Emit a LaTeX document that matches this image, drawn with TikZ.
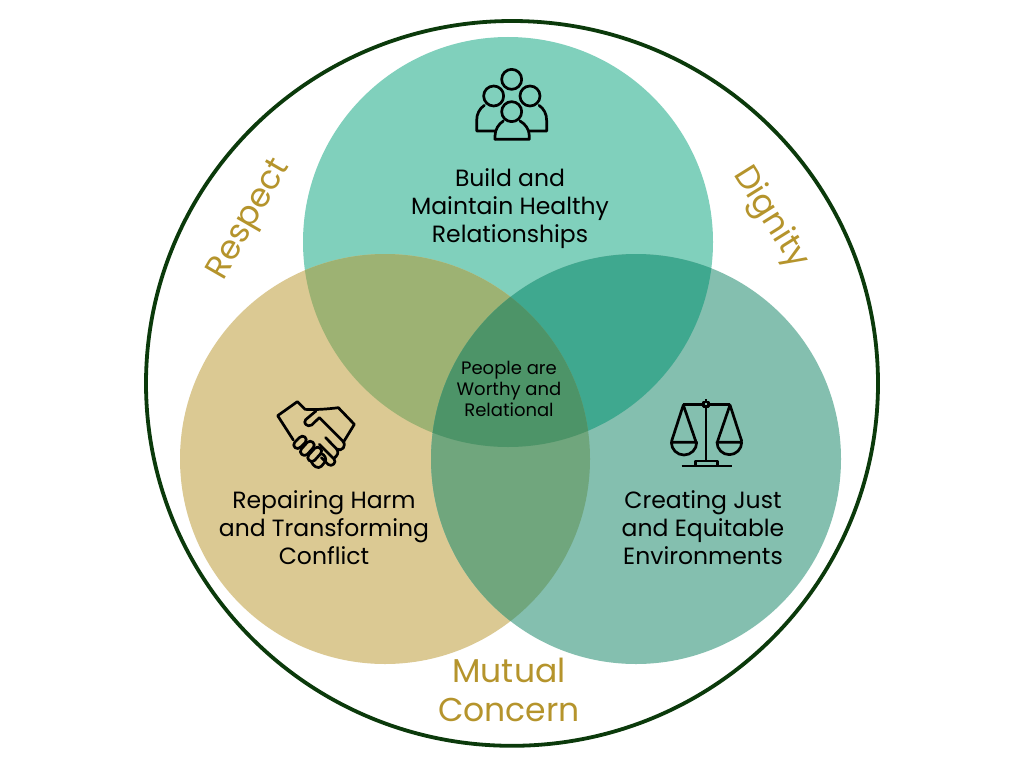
\documentclass[tikz,border=0pt]{standalone}
\usepackage{fontspec}
\setmainfont{Poppins}
\definecolor{ctop}{HTML}{80D0BC}
\definecolor{cleft}{HTML}{DBC993}
\definecolor{cright}{HTML}{84BFAF}
\definecolor{ctl}{HTML}{9DB273}
\definecolor{ctr}{HTML}{3FA88F}
\definecolor{clr}{HTML}{70A67D}
\definecolor{ccen}{HTML}{4D9468}
\definecolor{ring}{HTML}{0B3A0B}
\definecolor{gold}{HTML}{B5942C}
\tikzset{
  label/.style={font=\fontsize{23.5}{28}\selectfont,align=center,text=black,inner sep=0pt},
  small/.style={font=\fontsize{18}{21}\selectfont,align=center,text=black,inner sep=0pt},
  value/.style={font=\fontsize{33}{39}\selectfont,align=center,text=gold,inner sep=0pt},
  icon/.style={draw=black,line width=2.7pt,line join=round,line cap=round,fill=none}
}
\newcommand{\circT}{(508,242) circle[radius=205]}
\newcommand{\circL}{(385,459) circle[radius=205]}
\newcommand{\circR}{(636,459) circle[radius=205]}
\begin{document}
\begin{tikzpicture}[x=1pt,y=-1pt]
\useasboundingbox (0,0) rectangle (1024,768);
\fill[white] (0,0) rectangle (1024,768);
\fill[ctop] \circT;
\fill[cleft] \circL;
\fill[cright] \circR;
\begin{scope}\clip \circT; \fill[ctl] \circL; \fill[ctr] \circR; \end{scope}
\begin{scope}\clip \circL; \fill[clr] \circR; \end{scope}
\begin{scope}\clip \circT; \clip \circL; \fill[ccen] \circR; \end{scope}
\draw[ring,line width=3.8pt] (512,383.4) ellipse[x radius=366,y radius=362.4];

\node[label] (build) at (510,208.5) {Build and\\Maintain Healthy\\Relationships};
\node[label] (repair) at (324,528) {Repairing Harm\\and Transforming\\Conflict};
\node[label] (just) at (703,528) {Creating Just\\and Equitable\\Environments};
\node[small] (core) at (509,388.5) {People are\\Worthy and\\Relational};
\node[value,rotate=60] (respect) at (250,220) {Respect};
\node[value,rotate=-58] (dignity) at (770,218) {Dignity};
\node[value] (mutual) at (509,690) {Mutual\\Concern};

% people icon
\begin{scope}[shift={(450,50)},x=.3333pt,y=-.3333pt]
\draw[icon] (185,88) circle[radius=30];
\draw[icon] (131,138) circle[radius=30];
\draw[icon] (240,138) circle[radius=30];
\draw[icon] (185,185) circle[radius=30];
\draw[icon] (103,166) .. controls (88,176) and (80,192) .. (80,212) -- (80,243) -- (135,243);
\draw[icon] (267,166) .. controls (282,176) and (290,192) .. (290,212) -- (290,243) -- (238,243);
\draw[icon] (135,268) -- (238,268) -- (238,258) .. controls (238,238) and (226,222) .. (210,213);
\draw[icon] (160,213) .. controls (146,222) and (135,238) .. (135,258) -- (135,268);
\end{scope}

% handshake icon
\begin{scope}[shift={(260,385)},x=.3333pt,y=-.3333pt]
\draw[icon] (100,165) -- (53,92) -- (112,50) -- (135,73) .. controls (165,75) and (205,72) .. (235,68) -- (283,118) -- (250,172);
\draw[icon] (168,78) -- (137,104) .. controls (128,114) and (142,128) .. (155,120) -- (178,98) -- (248,168) .. controls (262,182) and (245,202) .. (230,192) -- (197,158);
\draw[icon] (178,178) -- (222,222) .. controls (232,232) and (215,248) .. (204,238) -- (184,218);
\draw[icon] (230,192) .. controls (238,202) and (232,212) .. (222,220);
\draw[icon] (104,172) -- (118,158) .. controls (128,146) and (146,160) .. (136,172) -- (122,186) .. controls (112,198) and (94,184) .. (104,172);
\draw[icon] (124,192) -- (142,172) .. controls (152,162) and (170,176) .. (160,188) -- (142,208) .. controls (132,218) and (114,204) .. (124,192);
\draw[icon] (146,210) -- (164,190) .. controls (174,180) and (192,194) .. (182,206) -- (164,226) .. controls (154,236) and (136,222) .. (146,210);
\draw[icon] (184,206) .. controls (194,208) and (202,224) .. (194,232) -- (184,244) .. controls (174,254) and (158,242) .. (154,230);
\end{scope}

% scales icon
\begin{scope}[shift={(655,385)},x=.3333pt,y=-.3333pt]
\draw[icon,line cap=butt] (85,58) -- (145,58) (161,58) -- (225,58);
\draw[icon,line cap=butt] (153,66) -- (153,228);
\draw[icon,line cap=butt] (146,51) rectangle (160,65);
\draw[icon,line cap=butt] (153,42) -- (153,50);
\draw[icon] (85,60) -- (50,168) (85,60) -- (122,168);
\draw[icon] (225,60) -- (188,168) (225,60) -- (260,168);
\draw[icon] (49,172) -- (125,172) arc[start angle=0,end angle=180,radius=38] -- cycle;
\draw[icon] (186,172) -- (260,172) arc[start angle=0,end angle=180,radius=37] -- cycle;
\draw[icon,line cap=butt] (80,243) -- (230,243);
\draw[icon,line cap=butt] (122,243) -- (122,228) -- (188,228) -- (188,243);
\end{scope}
\end{tikzpicture}
\end{document}
